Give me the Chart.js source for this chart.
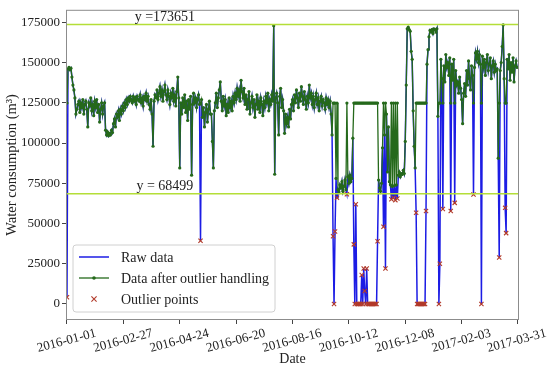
<!DOCTYPE html>
<html>
<head>
<meta charset="utf-8">
<script src="https://cdn.jsdelivr.net/npm/chart.js@4/dist/chart.umd.min.js"></script>
<style>
html,body{margin:0;padding:0;background:#ffffff;}
#wrap{width:550px;height:368px;}
</style>
</head>
<body>
<div id="wrap"><canvas id="c" width="550" height="368"></canvas></div>
<script>
// ---------------- DATA ----------------
const startDate = '2016-01-01';
const xTickLabels = ['2016-01-01','2016-02-27','2016-04-24','2016-06-20','2016-08-16','2016-10-12','2016-12-08','2017-02-03','2017-03-31'];
const yTickValues = [0, 25000, 50000, 75000, 100000, 125000, 150000, 175000];

// daily water consumption after outlier handling (2016-01-01 .. 2017-03-31)
const cleanedData = [
124800,146000,147000,145500,146500,141000,136000,133000,128000,118000,121000,
124000,126000,119000,125000,122000,127000,118000,124000,126000,121000,
110000,125000,123000,128000,120000,124000,117000,126000,122000,127000,
119000,124000,113000,121000,125000,118000,123000,125000,108000,105000,
107000,104500,106000,105000,108000,106500,112000,115000,110000,118000,
116000,120000,114000,121000,118000,123000,120000,125000,122000,127000,
124000,128000,126000,129000,127000,125000,129000,126000,128000,124000,
129000,127000,126000,130000,125000,128000,123000,129000,127000,131000,
126000,129000,124000,121000,127000,118000,98000,126000,130000,128000,
133000,127000,131000,135000,129000,133000,126000,132000,136000,130000,
127000,133000,129000,124000,131000,128000,134000,126000,130000,123000,
132000,141000,128000,84500,125000,118000,128000,122000,130000,119000,
126000,114000,127000,121000,129000,80000,124000,131000,125000,128000,
122000,127000,130000,124000,124800,127000,116000,122000,110000,119000,
124000,113000,121000,126000,118000,118000,101000,84500,120000,125000,
131000,122000,128000,133000,138000,126000,120000,129000,123000,127000,
117000,124000,119000,128000,122000,126000,120000,129000,125000,131000,
127000,134000,129000,133000,126000,139000,132000,128000,134000,124000,
130000,121000,127000,132000,118000,125000,129000,122000,127000,116000,
124000,130000,121000,126000,119000,128000,124000,117000,126000,122000,
129000,125000,131000,120000,127000,124000,130000,126000,172900,80600,128000,
131000,125000,105000,129000,134000,122000,127000,120000,106000,118000,
112000,116000,110000,121000,115000,124000,127000,120000,130000,125000,
133000,128000,122000,131000,126000,135000,129000,124000,132000,127000,
121000,129000,125000,136000,128000,131000,124000,129000,122000,127000,
131000,124000,128000,120000,126000,129000,123000,127000,125000,121000,
128000,124000,127000,122000,126000,118000,105000,
124800,124800,124800,78000,124800,
71000,69500,74000,72000,76000,70000,73000,77000,71000,
124800,
79000,75000,80000,76000,78000,103000,
124800,124800,124800,124800,124800,124800,124800,124800,124800,124800,
124800,124800,124800,124800,124800,124800,124800,124800,124800,124800,
124800,124800,124800,124800,124800,
77000,72000,70000,75000,97000,
124800,105000,124800,
118000,82000,110000,76000,74000,
124800,73000,124800,73500,124800,74000,124800,
80000,82000,79000,81000,80500,83000,81000,
101000,136000,171000,172000,170500,169500,157000,152000,120000,98000,84500,
124800,124800,124800,124800,124800,124800,124800,124800,124800,124800,124800,
149000,158000,166000,170000,169000,170500,168000,171000,170500,169000,171000,
116600,124800,124800,152000,140000,124800,
148000,138000,155000,147000,150000,142000,153000,
124800,149000,139000,152000,124800,
145000,136000,138000,131000,141000,134000,127000,112000,131000,137000,
129000,145000,136000,151000,140000,133000,148000,142000,
124800,
147000,156000,152000,157000,150000,155000,149000,
124800,
154000,147000,152000,142000,150000,155000,145000,149000,153000,140000,
148000,151000,144000,149000,145000,146000,
90600,124800,
145000,150000,160000,173400,140000,
124800,124800,
152000,146000,155000,139000,150000,144000,153000,138000,148000,151000,147000
];

// days (index from 2016-01-01) flagged as outliers, and their raw values
const outlierDays = [
0,135,
269,270,271,273,283,
290,291,292,293,294,295,296,297,298,299,300,301,302,303,304,305,306,307,308,309,310,311,312,313,314,
320,322,328,330,332,334,
353,354,355,356,357,358,359,360,361,362,363,
376,377,380,388,392,411,419,437,443,444
];
const outlierValues = [
4200,39300,
42000,0,45000,66000,68200,
37000,0,62000,0,0,0,0,0,18000,0,22000,8000,0,22000,0,0,0,0,0,0,0,0,0,0,39000,
48000,22000,65000,66000,64500,65500,
56600,0,0,0,0,0,0,0,0,0,57800,
0,25000,59000,57700,62800,68000,0,28800,59700,44000
];

const thresholdValues = [173651, 68499];
const thresholdLabels = ['y =173651', 'y = 68499'];
const thresholdLabelDay = 99;

// ---------------- BUILD ----------------
const FONT = '"Liberation Serif", "Times New Roman", serif';
const rawData = cleanedData.slice();
outlierDays.forEach((d, i) => { rawData[d] = outlierValues[i]; });

const rawPts = rawData.map((v, i) => ({x: i, y: v}));
const cleanPts = cleanedData.map((v, i) => ({x: i, y: v}));
const outPts = outlierDays.map((d, i) => ({x: d, y: outlierValues[i]}));

const dayMs = 86400000;
const t0 = Date.parse(startDate + 'T00:00:00Z');
const xTickDays = xTickLabels.map(s => Math.round((Date.parse(s + 'T00:00:00Z') - t0) / dayMs));

const COL_RAW = '#1c1ce4';
const COL_CLEAN = '#25691b';
const COL_OUT = '#b23a2a';
const COL_REF = '#b4de38';

const overlay = {
  id: 'overlay',
  afterDatasetsDraw(chart) {
    const {ctx, chartArea: a, scales: {x, y}} = chart;
    ctx.save();
    ctx.beginPath();
    ctx.rect(a.left, a.top, a.right - a.left, a.bottom - a.top);
    ctx.clip();
    ctx.strokeStyle = COL_REF;
    ctx.lineWidth = 1.6;
    thresholdValues.forEach(v => {
      const py = y.getPixelForValue(v);
      ctx.beginPath();
      ctx.moveTo(a.left, py);
      ctx.lineTo(a.right, py);
      ctx.stroke();
    });
    ctx.restore();

    ctx.save();
    ctx.fillStyle = '#222';
    ctx.font = '14px ' + FONT;
    ctx.textAlign = 'center';
    ctx.textBaseline = 'alphabetic';
    const lx = x.getPixelForValue(thresholdLabelDay);
    thresholdValues.forEach((v, i) => {
      ctx.fillText(thresholdLabels[i], lx, y.getPixelForValue(v) - 3.5);
    });
    ctx.strokeStyle = '#8c8c8c';
    ctx.lineWidth = 1;
    ctx.strokeRect(a.left + 0.5, a.top + 0.5, a.right - a.left - 1, a.bottom - a.top - 1);

    // legend
    const ds = chart.data.datasets;
    const bx = a.left + 7, by = a.bottom - 75, bw = 202, bh = 67, r = 3;
    ctx.beginPath();
    ctx.moveTo(bx + r, by);
    ctx.lineTo(bx + bw - r, by);
    ctx.quadraticCurveTo(bx + bw, by, bx + bw, by + r);
    ctx.lineTo(bx + bw, by + bh - r);
    ctx.quadraticCurveTo(bx + bw, by + bh, bx + bw - r, by + bh);
    ctx.lineTo(bx + r, by + bh);
    ctx.quadraticCurveTo(bx, by + bh, bx, by + bh - r);
    ctx.lineTo(bx, by + r);
    ctx.quadraticCurveTo(bx, by, bx + r, by);
    ctx.closePath();
    ctx.fillStyle = 'rgba(255,255,255,0.85)';
    ctx.fill();
    ctx.strokeStyle = '#d0d0d0';
    ctx.stroke();

    const order = [2, 1, 0]; // raw, cleaned, outliers
    order.forEach((di, row) => {
      const d = ds[di];
      const cy = by + 12 + row * 21;
      const x1 = bx + 6, x2 = bx + 36, xm = (x1 + x2) / 2;
      if (d.showLine !== false) {
        ctx.strokeStyle = d.borderColor;
        ctx.lineWidth = d.borderWidth;
        ctx.beginPath(); ctx.moveTo(x1, cy); ctx.lineTo(x2, cy); ctx.stroke();
        if (d.pointRadius > 0) {
          ctx.fillStyle = d.pointBackgroundColor;
          ctx.beginPath(); ctx.arc(xm, cy, d.pointRadius + 0.2, 0, Math.PI * 2); ctx.fill();
        }
      } else {
        ctx.strokeStyle = d.pointBorderColor;
        ctx.lineWidth = d.pointBorderWidth;
        const s = 2.6;
        ctx.beginPath();
        ctx.moveTo(xm - s, cy - s); ctx.lineTo(xm + s, cy + s);
        ctx.moveTo(xm - s, cy + s); ctx.lineTo(xm + s, cy - s);
        ctx.stroke();
      }
      ctx.fillStyle = '#222';
      ctx.font = '14px ' + FONT;
      ctx.textAlign = 'left';
      ctx.textBaseline = 'middle';
      ctx.fillText(d.label, bx + 48, cy + 1);
    });
    ctx.restore();
  }
};

new Chart(document.getElementById('c'), {
  type: 'line',
  data: {
    datasets: [
      {
        label: 'Outlier points', data: outPts, showLine: false,
        pointStyle: 'crossRot', pointRadius: 3, pointBorderWidth: 1.1,
        pointBorderColor: COL_OUT, pointBackgroundColor: COL_OUT, borderColor: COL_OUT,
        order: 0
      },
      {
        label: 'Data after outlier handling', data: cleanPts,
        borderColor: COL_CLEAN, borderWidth: 1.3, pointRadius: 1.6, pointHoverRadius: 1.6,
        pointBackgroundColor: COL_CLEAN, pointBorderColor: COL_CLEAN, pointBorderWidth: 0,
        tension: 0, order: 1
      },
      {
        label: 'Raw data', data: rawPts,
        borderColor: COL_RAW, borderWidth: 1.5, pointRadius: 0,
        tension: 0, order: 2
      }
    ]
  },
  options: {
    responsive: false,
    animation: false,
    devicePixelRatio: 1,
    layout: { padding: { left: 0, right: 31, top: 8, bottom: 0 } },
    plugins: { legend: { display: false }, tooltip: { enabled: false } },
    scales: {
      x: {
        type: 'linear', min: -1, max: 457,
        afterBuildTicks: s => { s.ticks = xTickDays.map(v => ({ value: v })); },
        afterFit: s => { s.height = 48; },
        ticks: {
          autoSkip: false, minRotation: 15, maxRotation: 15, labelOffset: 29, padding: 1.5,
          font: { family: FONT, size: 13 }, color: '#222',
          callback: (v, i) => xTickLabels[i]
        },
        grid: { drawOnChartArea: false, drawTicks: true, tickLength: 4, tickColor: '#444' },
        border: { display: false },
        title: { display: true, text: 'Date', font: { family: FONT, size: 14 }, color: '#222', padding: { top: 0, bottom: 0 } }
      },
      y: {
        min: -10000, max: 182800,
        afterBuildTicks: s => { s.ticks = yTickValues.map(v => ({ value: v })); },
        afterFit: s => { s.width = 66; },
        ticks: {
          font: { family: FONT, size: 13 }, color: '#222', padding: 2,
          callback: v => String(v)
        },
        grid: { drawOnChartArea: false, drawTicks: true, tickLength: 4, tickColor: '#444' },
        border: { display: false },
        title: { display: true, text: 'Water consumption (m³)', font: { family: FONT, size: 14.5 }, color: '#222', padding: { top: 3, bottom: 0 } }
      }
    }
  },
  plugins: [overlay]
});
</script>
</body>
</html>
